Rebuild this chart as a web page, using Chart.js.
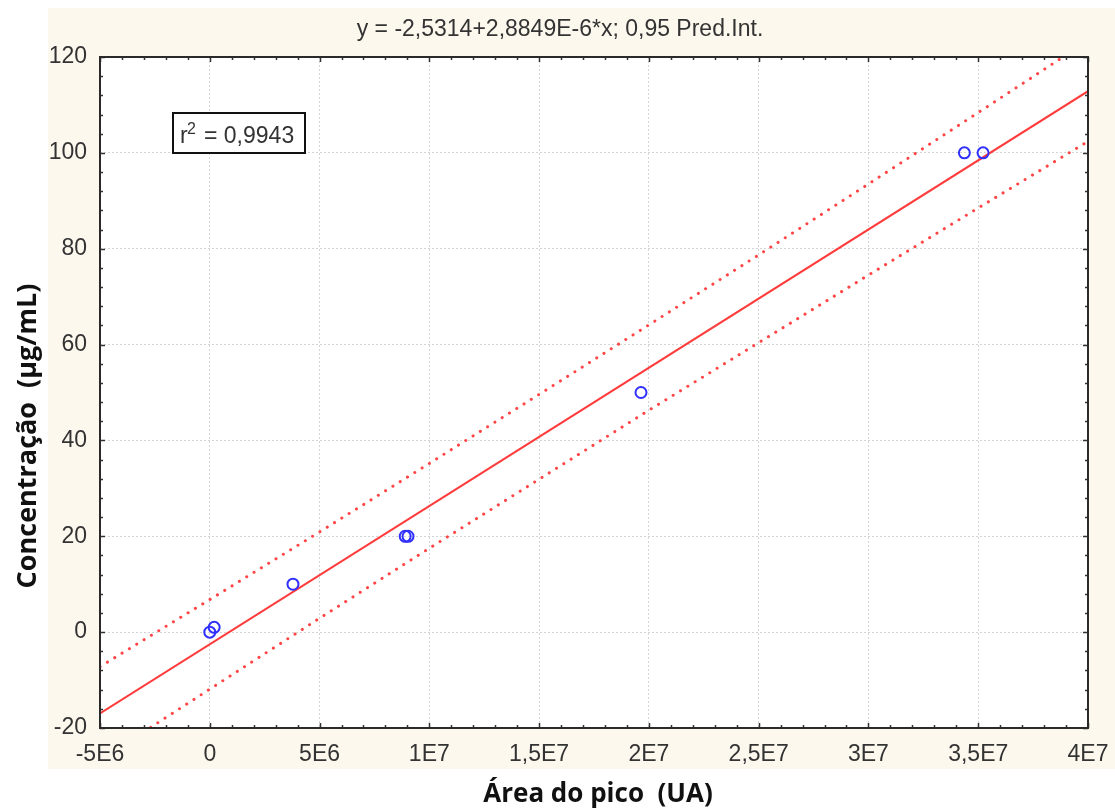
<!DOCTYPE html>
<html>
<head>
<meta charset="utf-8">
<title>Curva de calibração</title>
<script src="https://cdn.jsdelivr.net/npm/chart.js@4.4.1/dist/chart.umd.min.js"></script>
<style>
  html, body { margin:0; padding:0; background:#fff; }
  #wrap { width:1115px; height:812px; position:relative; }
</style>
</head>
<body>
<div id="wrap"><canvas id="calib"></canvas></div>
<script>
// calibration points: peak area (UA) vs concentration (µg/mL)
const areaPico = [0, 0.2e6, 3.79e6, 8.9e6, 9.03e6, 19.64e6, 34.37e6, 35.22e6];
const concentracao = [0, 1, 10, 20, 20, 50, 100, 100];

// fitted line y = a + b*x
const intercept = -2.5314;
const slope = 2.8849e-6;
const fitX = [-5e6, 4e7];
const r2Text = '0,9943';
const titleText = 'y = -2,5314+2,8849E-6*x; 0,95 Pred.Int.';

// 0,95 prediction band
const bandX = [-5e6, 0, 5e6, 1e7, 1.5e7, 2e7, 2.5e7, 3e7, 3.5e7, 4e7];
const bandUpper = [-7.2, 6.8, 20.9, 35.2, 49.6, 64.1, 78.7, 93.5, 108.4, 123.4];
const bandLower = [-26.7, -11.9, 2.9, 17.5, 31.9, 46.3, 60.4, 74.5, 88.5, 102.4];

const xTickLabels = ['-5E6', '0', '5E6', '1E7', '1,5E7', '2E7', '2,5E7', '3E7', '3,5E7', '4E7'];
const yTickLabels = ['-20', '0', '20', '40', '60', '80', '100', '120'];

const xTitle = 'Área do pico  (UA)';
const yTitle = 'Concentração  (µg/mL)';

const TICK_FONT = { family: '"Liberation Sans", Arial, sans-serif', size: 23 };
const INK = '#333';

const pts = areaPico.map((x, i) => ({ x, y: concentracao[i] }));
const fit = fitX.map(x => ({ x, y: intercept + slope * x }));
const upper = bandX.map((x, i) => ({ x, y: bandUpper[i] }));
const lower = bandX.map((x, i) => ({ x, y: bandLower[i] }));

// beige panel, white plot area, frame with inward ticks, r² box and titles
const decor = {
  id: 'decor',
  beforeDraw(chart){
    const { ctx, chartArea: a } = chart;
    ctx.save();
    ctx.fillStyle = '#fdf8ee';
    ctx.fillRect(48, 8, chart.width - 48, 761);
    ctx.fillStyle = '#fff';
    ctx.fillRect(a.left, a.top, a.right - a.left, a.bottom - a.top);
    ctx.restore();
  },
  afterDraw(chart){
    const { ctx, chartArea: a, scales: { x, y } } = chart;
    ctx.save();
    ctx.strokeStyle = INK;
    ctx.lineWidth = 1.5;
    ctx.beginPath();
    for (let i = 0; i <= 45; i++){
      const px = Math.round(x.getPixelForValue(-5e6 + i * 1e6)) + 0.5;
      const len = i % 5 === 0 ? 5 : 3;
      ctx.moveTo(px, a.bottom); ctx.lineTo(px, a.bottom - len);
      ctx.moveTo(px, a.top); ctx.lineTo(px, a.top + len);
    }
    for (let i = 0; i <= 35; i++){
      const py = Math.round(y.getPixelForValue(-20 + i * 4)) + 0.5;
      const len = i % 5 === 0 ? 5 : 3;
      ctx.moveTo(a.left, py); ctx.lineTo(a.left + len, py);
      ctx.moveTo(a.right, py); ctx.lineTo(a.right - len, py);
    }
    ctx.stroke();
    ctx.lineWidth = 2;
    ctx.strokeStyle = '#2a2a2a';
    ctx.strokeRect(a.left, a.top, a.right - a.left, a.bottom - a.top);

    // r² box
    const bx = a.left + 73, by = a.top + 56;
    ctx.fillStyle = '#fff';
    ctx.fillRect(bx, by, 132, 40);
    ctx.strokeStyle = '#111';
    ctx.strokeRect(bx, by, 132, 40);
    ctx.fillStyle = INK;
    ctx.textBaseline = 'alphabetic';
    ctx.textAlign = 'left';
    ctx.font = '23px "Liberation Sans", Arial, sans-serif';
    ctx.fillText('r', bx + 7, by + 30);
    ctx.font = '16px "Liberation Sans", Arial, sans-serif';
    ctx.fillText('2', bx + 14, by + 21);
    ctx.font = '23px "Liberation Sans", Arial, sans-serif';
    ctx.fillText('= ' + r2Text, bx + 31, by + 30);

    // chart title
    ctx.textAlign = 'center';
    ctx.fillText(titleText, 560, 36);

    // axis titles
    ctx.fillStyle = '#111';
    ctx.font = 'bold 26px "Open Sans", Lato, sans-serif';
    ctx.fillText(xTitle, 598, 802);
    ctx.font = 'bold 27px "Open Sans", Lato, sans-serif';
    ctx.translate(36, 436);
    ctx.rotate(-Math.PI / 2);
    ctx.fillText(yTitle, 0, 0);
    ctx.restore();
  }
};

new Chart(document.getElementById('calib'), {
  type: 'scatter',
  data: { datasets: [
    { label: 'pontos', data: pts, pointStyle: 'circle', pointRadius: 5.5, pointBorderWidth: 2,
      borderColor: '#3030ff', backgroundColor: 'rgba(0,0,0,0)', pointHoverRadius: 5.5 },
    { label: 'ajuste', data: fit, showLine: true, pointRadius: 0, borderColor: '#ff3b3b', borderWidth: 2 },
    { label: 'IP sup', data: upper, showLine: true, pointRadius: 0, borderColor: '#ff4545', borderWidth: 3,
      borderDash: [0.1, 8.5], borderCapStyle: 'round' },
    { label: 'IP inf', data: lower, showLine: true, pointRadius: 0, borderColor: '#ff4545', borderWidth: 3,
      borderDash: [0.1, 8.5], borderCapStyle: 'round' },
  ] },
  options: {
    responsive: true, maintainAspectRatio: false, animation: false,
    layout: { padding: { top: 57, right: 27, left: 0, bottom: 0 } },
    plugins: { legend: { display: false }, tooltip: { enabled: false }, title: { display: false } },
    scales: {
      x: {
        type: 'linear', min: -5e6, max: 4e7,
        afterFit: s => { s.height = 84; s.paddingLeft = 0; s.paddingRight = 0; },
        ticks: { stepSize: 5e6, autoSkip: false, maxRotation: 0, padding: 13, color: INK, font: TICK_FONT,
          callback: (v, i) => xTickLabels[i] },
        grid: { color: '#d4d4d4', lineWidth: 1, drawTicks: false },
        border: { display: false, dash: [2, 2] },
      },
      y: {
        type: 'linear', min: -20, max: 120,
        afterFit: s => { s.width = 100; },
        ticks: { stepSize: 20, autoSkip: false, padding: 13, color: INK, font: TICK_FONT,
          callback: (v, i) => yTickLabels[i] },
        grid: { color: '#d4d4d4', lineWidth: 1, drawTicks: false },
        border: { display: false, dash: [2, 2] },
      }
    }
  },
  plugins: [decor]
});
</script>
</body>
</html>
